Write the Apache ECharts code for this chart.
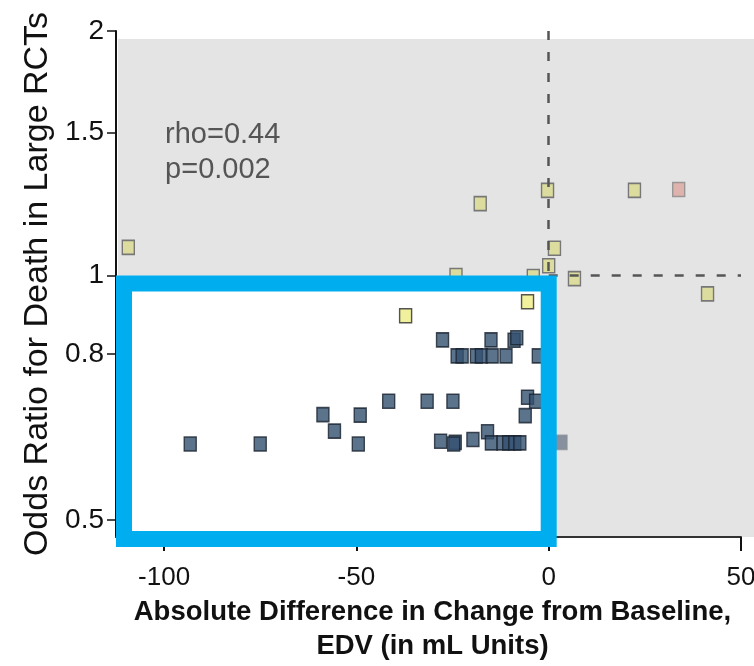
<!DOCTYPE html>
<html><head><meta charset="utf-8">
<script src="https://cdn.jsdelivr.net/npm/echarts@6/dist/echarts.min.js"></script>
<style>html,body{margin:0;padding:0;background:#fff}#c{width:754px;height:666px}</style>
</head><body><div id="c"></div>
<script>
// ---- data ----
const xTicks = [-100, -50, 0, 50];
const yTicks = [0.5, 0.8, 1, 1.5, 2];
const yTickLabels = ['0.5', '0.8', '1', '1.5', '2'];
const xTitle = 'Absolute Difference in Change from Baseline,\nEDV (in mL Units)';
const yTitle = 'Odds Ratio for Death in Large RCTs';
const statLines = ['rho=0.44', 'p=0.002'];

// highlighted trials (inside box)
const blueX  = [-93.2, -75.0, -58.7, -55.7, -49.0, -49.5, -41.6, -31.6, -24.9, -27.6, -15.0, -9.0, -8.3,
                -23.8, -22.5, -18.8, -17.5, -14.7, -11.1, -2.7, -5.5, -3.4, -6.1,
                -28.1, -24.3, -24.7, -19.7, -15.9, -14.9, -11.9, -10.4, -8.8, -7.5];
const blueOR = [0.620, 0.620, 0.674, 0.643, 0.673, 0.620, 0.700, 0.700, 0.700, 0.833, 0.833, 0.832, 0.838,
                0.796, 0.796, 0.796, 0.796, 0.796, 0.796, 0.796, 0.708, 0.700, 0.672,
                0.625, 0.623, 0.620, 0.628, 0.642, 0.622, 0.622, 0.622, 0.622, 0.622];
const brightYellowX  = [-37.2, -5.5];
const brightYellowOR = [0.892, 0.928];

// faded trials (outside box)
const fadedYellowX  = [-109.3, -17.8, -0.3, 22.3, 1.5, 0.0, 6.7, 41.3, -24.1, -4.0];
const fadedYellowOR = [1.083, 1.226, 1.273, 1.273, 1.080, 1.028, 0.991, 0.949, 1.000, 0.997];
const fadedRedX  = [33.8];
const fadedRedOR = [1.276];
const fadedBlueX  = [3.2];
const fadedBlueOR = [0.623];

// ---- chart ----
const XMIN = -112.5, XMAX = 50;
const YMIN = -1.07, YMAX = 1; // log2 space
const FONT = 'Liberation Sans, Arial, Helvetica, sans-serif';
const pts = (xs, ys) => xs.map((x, i) => [x, Math.log2(ys[i])]);

const chart = echarts.init(document.getElementById('c'), null, {renderer: 'canvas'});
const sq = [12, 14];
const option = {
  animation: false,
  grid: {left: 116, right: 13, top: 31, bottom: 129, containLabel: false, outerBoundsMode: 'none'},
  xAxis: {
    type: 'value', min: XMIN, max: XMAX,
    axisLine: {show: true, onZero: false, lineStyle: {color: '#333', width: 2}},
    axisTick: {show: true, length: 14, lineStyle: {color: '#111', width: 2}, customValues: xTicks},
    axisLabel: {customValues: xTicks, color: '#111', fontSize: 26, fontFamily: FONT, margin: 28},
    splitLine: {show: false},
    name: xTitle, nameLocation: 'middle', nameGap: 53,
    nameTextStyle: {color: '#111', fontSize: 27.5, fontWeight: 'bold', fontFamily: FONT, lineHeight: 34,
                    verticalAlign: 'top', padding: [0, 0, 0, 8]}
  },
  yAxis: {
    type: 'value', min: YMIN, max: YMAX,
    axisLine: {show: true, onZero: false, lineStyle: {color: '#111', width: 2}},
    axisTick: {show: true, length: 9, lineStyle: {color: '#111', width: 1.5}, customValues: yTicks.map(Math.log2)},
    axisLabel: {
      customValues: yTicks.map(Math.log2), color: '#111', fontSize: 28, fontFamily: FONT, margin: 12,
      formatter: v => {
        let best = 0;
        yTicks.forEach((t, i) => { if (Math.abs(Math.log2(t) - v) < Math.abs(Math.log2(yTicks[best]) - v)) best = i; });
        return yTickLabels[best];
      }
    },
    splitLine: {show: false},
    name: yTitle, nameLocation: 'middle', nameGap: 61, nameRotate: 90,
    nameTextStyle: {color: '#111', fontSize: 34, fontFamily: FONT}
  },
  series: [
    {
      type: 'line', data: [], z: 1, silent: true,
      markLine: {
        silent: true, symbol: 'none', label: {show: false},
        lineStyle: {color: '#555', width: 2.5, type: [9, 12]},
        data: [
          [{coord: [0, YMAX]}, {coord: [0, 0]}],
          [{coord: [0, 0]}, {coord: [XMAX, 0]}]
        ]
      }
    },
    {type: 'scatter', z: 3, symbol: 'rect', symbolSize: sq, data: pts(fadedYellowX, fadedYellowOR),
     itemStyle: {color: '#dcdc9e', borderColor: '#777', borderWidth: 1.5, opacity: 1}},
    {type: 'scatter', z: 3, symbol: 'rect', symbolSize: sq, data: pts(fadedRedX, fadedRedOR),
     itemStyle: {color: '#dda69f', borderColor: '#888', borderWidth: 1.5}},
    {type: 'scatter', z: 3, symbol: 'rect', symbolSize: sq, data: pts(fadedBlueX, fadedBlueOR),
     itemStyle: {color: '#6e7a8c', borderColor: '#8a8f96', borderWidth: 1.5}},
    {type: 'scatter', z: 3, symbol: 'rect', symbolSize: sq, data: pts(blueX, blueOR),
     itemStyle: {color: '#33506f', borderColor: '#18222e', borderWidth: 1.5}},
    {type: 'scatter', z: 3, symbol: 'rect', symbolSize: sq, data: pts(brightYellowX, brightYellowOR),
     itemStyle: {color: '#ecec84', borderColor: '#2a2a2a', borderWidth: 1.5}}
  ]
};
chart.setOption(option);

const px = (x, y) => chart.convertToPixel({gridIndex: 0}, [x, y]);
const [gL, gB] = px(XMIN, YMIN);
const [gR, gT] = px(XMAX, YMAX);
const [x0, y1] = px(0, 0);
const txt = px(-100, Math.log2(1.5));
const LW = 16;
chart.setOption({
  graphic: [
    {type: 'rect', z: -2, silent: true, shape: {x: gL + 2, y: gT + 8, width: 754 - gL - 2, height: gB - gT - 8},
     style: {fill: '#e4e4e4'}},
    {type: 'rect', z: -1, silent: true, shape: {x: gL + LW / 2, y: y1 + LW / 2, width: x0 - gL - LW / 2, height: gB + 2 - y1 - LW / 2},
     style: {fill: '#ffffff'}},
    {type: 'rect', z: 20, silent: true, shape: {x: gL + LW / 2, y: y1 + LW / 2, width: x0 - gL - LW / 2, height: gB + 2 - y1 - LW / 2},
     style: {fill: null, stroke: '#00aeef', lineWidth: LW}},
    {type: 'text', z: 20, silent: true, x: txt[0] + 1, y: txt[1] + 3,
     style: {text: statLines[0], fill: '#555', font: '29px ' + FONT, verticalAlign: 'middle', align: 'left'}},
    {type: 'text', z: 20, silent: true, x: txt[0] + 1, y: txt[1] + 38,
     style: {text: statLines[1], fill: '#555', font: '29px ' + FONT, verticalAlign: 'middle', align: 'left'}}
  ]
});
</script></body></html>
